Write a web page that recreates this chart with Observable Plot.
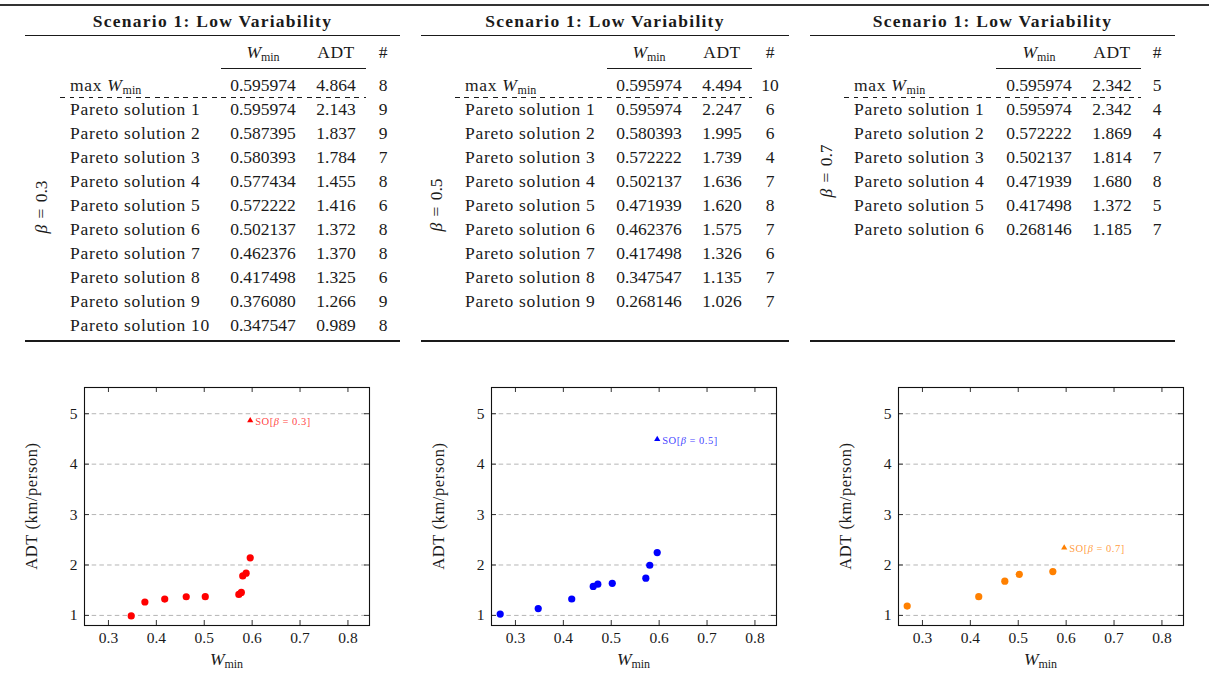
<!DOCTYPE html>
<html>
<head>
<meta charset="utf-8">
<script src="https://cdn.jsdelivr.net/npm/d3@7"></script>
<script src="https://cdn.jsdelivr.net/npm/@observablehq/plot@0.6"></script>
<style>
  body { margin: 0; background: #fff; }
  #page { position: relative; width: 1209px; height: 682px; overflow: hidden;
          font-family: "Liberation Serif", "DejaVu Serif", serif; color: #1a1a1a; }
  .t { position: absolute; white-space: nowrap; line-height: 1; font-size: 17.5px; }
  .word { letter-spacing: 0.7px; }
  .rule { position: absolute; background: #1a1a1a; }
  .dash { position: absolute; height: 0.8px;
          background: repeating-linear-gradient(to right, #1a1a1a 0 4.75px, transparent 4.75px 9.5px); }
  .sub { font-size: 12px; position: relative; top: 3px; letter-spacing: 0; }
  .plotbox { position: absolute; top: 380px; width: 407px; height: 302px; }
  .plotbox svg { max-width: none; }
</style>
</head>
<body>
<div id="page"></div>
<script>
// ---------------- DATA ----------------
const title = "Scenario 1: Low Variability";
const betas = [0.3, 0.5, 0.7];
const colors = ["#ff0000", "#0000ff", "#ff8000"];

// max W_min rows (system-optimal solutions)
const maxWmin = [0.595974, 0.595974, 0.595974];
const maxADT = [4.864, 4.494, 2.342];
const maxCount = [8, 10, 5];

// beta = 0.3
const wmin03 = [0.595974, 0.587395, 0.580393, 0.577434, 0.572222, 0.502137, 0.462376, 0.417498, 0.376080, 0.347547];
const adt03  = [2.143, 1.837, 1.784, 1.455, 1.416, 1.372, 1.370, 1.325, 1.266, 0.989];
const cnt03  = [9, 9, 7, 8, 6, 8, 8, 6, 9, 8];
// beta = 0.5
const wmin05 = [0.595974, 0.580393, 0.572222, 0.502137, 0.471939, 0.462376, 0.417498, 0.347547, 0.268146];
const adt05  = [2.247, 1.995, 1.739, 1.636, 1.620, 1.575, 1.326, 1.135, 1.026];
const cnt05  = [6, 6, 4, 7, 8, 7, 6, 7, 7];
// beta = 0.7
const wmin07 = [0.595974, 0.572222, 0.502137, 0.471939, 0.417498, 0.268146];
const adt07  = [2.342, 1.869, 1.814, 1.680, 1.372, 1.185];
const cnt07  = [4, 4, 7, 8, 5, 7];

const wminSeries = [wmin03, wmin05, wmin07];
const adtSeries = [adt03, adt05, adt07];
const cntSeries = [cnt03, cnt05, cnt07];

const xTicks = [0.3, 0.4, 0.5, 0.6, 0.7, 0.8];
const yTicks = [1, 2, 3, 4, 5];
const xDomain = [0.25, 0.845];
const yDomain = [0.8, 5.52];

// ---------------- LAYOUT ----------------
const page = document.getElementById("page");
const tableLayout = [
  {left: 25,  right: 400,  label: 70,  w: 263,  adt: 336,  num: 383,  betaX: 42,  betaY: 207, cmid: [221, 366], dash: [60, 366]},
  {left: 421, right: 789,  label: 465, w: 649,  adt: 722,  num: 770,  betaX: 437, betaY: 205, cmid: [607, 752], dash: [455, 752]},
  {left: 810, right: 1175, label: 854, w: 1039, adt: 1112, num: 1157, betaX: 827, betaY: 171, cmid: [996, 1141], dash: [844, 1141]}
];
const titleY = 22, topRuleY = 35.5, headerY = 53, cmidY = 68, maxRowY = 86, dashY = 97.5, rowY0 = 110, rowStep = 24, bottomRuleY = 341;

function text(html, x, y, anchor, cls, extraStyle) {
  const d = document.createElement("div");
  d.className = "t " + (cls || "");
  d.innerHTML = html;
  d.style.left = x + "px";
  d.style.top = y + "px";
  const tx = anchor === "middle" ? "-50%" : anchor === "end" ? "-100%" : "0";
  d.style.transform = `translate(${tx}, -50%)`;
  if (extraStyle) Object.assign(d.style, extraStyle);
  page.appendChild(d);
  return d;
}
function rule(x1, x2, y, h) {
  const d = document.createElement("div");
  d.className = "rule";
  Object.assign(d.style, {left: x1 + "px", width: (x2 - x1) + "px", top: (y - h / 2) + "px", height: h + "px"});
  page.appendChild(d);
}
function dash(x1, x2, y) {
  const d = document.createElement("div");
  d.className = "dash";
  Object.assign(d.style, {left: x1 + "px", width: (x2 - x1) + "px", top: (y - 0.4) + "px"});
  page.appendChild(d);
}

// top page line
const topLine = document.createElement("div");
Object.assign(topLine.style, {position: "absolute", left: "0px", top: "4px", width: "1209px", height: "1.6px", background: "#333"});
page.appendChild(topLine);

const Wmin = `<i>W</i><span class="sub">min</span>`;
const fmtW = d3.format(".6f"), fmtA = d3.format(".3f");

tableLayout.forEach((L, i) => {
  text(title, (L.left + L.right) / 2, titleY, "middle", "", {fontWeight: "bold", letterSpacing: "1.25px"});
  rule(L.left, L.right, topRuleY, 1.3);
  text(Wmin, L.w, headerY, "middle");
  text("ADT", L.adt, headerY, "middle", "", {letterSpacing: "0.5px"});
  text("#", L.num, headerY, "middle");
  rule(L.cmid[0], L.cmid[1], cmidY, 0.8);
  text(`max ${Wmin}`, L.label, maxRowY, "start", "word");
  text(fmtW(maxWmin[i]), L.w, maxRowY, "middle");
  text(fmtA(maxADT[i]), L.adt, maxRowY, "middle");
  text(String(maxCount[i]), L.num, maxRowY, "middle");
  dash(L.dash[0], L.dash[1], dashY);
  wminSeries[i].forEach((w, k) => {
    const y = rowY0 + k * rowStep;
    text(`Pareto solution ${k + 1}`, L.label, y, "start", "word");
    text(fmtW(w), L.w, y, "middle");
    text(fmtA(adtSeries[i][k]), L.adt, y, "middle");
    text(String(cntSeries[i][k]), L.num, y, "middle");
  });
  rule(L.left, L.right, bottomRuleY, 1.3);
  text(`<i>β</i> = ${betas[i]}`, L.betaX, L.betaY, "start", "",
       {transform: "translate(-50%, -50%) rotate(-90deg)", wordSpacing: "2px"});
});

// ---------------- PLOTS ----------------
function makePlot(i) {
  const W = 407, H = 302, mL = 84, mR = 38, mT = 7, mB = 57;
  const innerW = W - mL - mR, innerH = H - mT - mB;
  const pts = wminSeries[i].map((w, k) => ({w, adt: adtSeries[i][k]}))
    .filter(d => !(d.w === maxWmin[i] && d.adt === maxADT[i]));
  const so = [{w: maxWmin[i], adt: maxADT[i], label: `SO[β = ${betas[i]}]`}];
  const tickColor = "#333";
  const svg = Plot.plot({
    width: W, height: H,
    marginLeft: mL, marginRight: mR, marginTop: mT, marginBottom: mB,
    style: {fontFamily: "'Liberation Serif', 'DejaVu Serif', serif", fontSize: "15.5px", color: "#1a1a1a", background: "transparent", overflow: "visible"},
    x: {domain: xDomain, ticks: xTicks, tickFormat: d3.format(".1f"), tickSize: 0, tickPadding: 6, label: null},
    y: {domain: yDomain, ticks: yTicks, tickFormat: d3.format("d"), tickSize: 0, tickPadding: 7, label: null},
    marks: [
      Plot.ruleY(yTicks, {y: d => d, stroke: "#b5b5b5", strokeWidth: 1, strokeDasharray: "4.5,3.2"}),
      Plot.tickX(xTicks, {x: d => d, insetTop: innerH - 5, stroke: tickColor}),
      Plot.tickX(xTicks, {x: d => d, insetBottom: innerH - 5, stroke: tickColor}),
      Plot.tickY(yTicks, {y: d => d, insetRight: innerW - 5, stroke: tickColor}),
      Plot.tickY(yTicks, {y: d => d, insetLeft: innerW - 5, stroke: tickColor}),
      Plot.frame({stroke: "#111", strokeWidth: 1.1}),
      Plot.dot(pts, {x: "w", y: "adt", r: 3.6, fill: colors[i]}),
      Plot.dot(so, {x: "w", y: "adt", symbol: "triangle", r: 2.3, fill: colors[i]}),
      Plot.text(so, {x: "w", y: "adt", text: "label", dx: 5, dy: 1, textAnchor: "start", fill: colors[i],
                     fillOpacity: 0.78, fontSize: 10.5})
    ]
  });
  const s = d3.select(svg);
  s.style("max-width", "none");
  // italic beta in SO label
  s.selectAll("text").filter(function() { return this.textContent.startsWith("SO["); })
    .each(function() {
      const t = d3.select(this);
      const parts = this.textContent.split("β");
      t.text(null).style("letter-spacing", "0.5px");
      t.append("tspan").text(parts[0]);
      t.append("tspan").attr("font-style", "italic").text("β");
      t.append("tspan").text(parts[1]);
    });
  // y label
  s.append("text")
    .attr("transform", `translate(${mL - 51},${mT + innerH / 2}) rotate(-90)`)
    .attr("text-anchor", "middle").attr("dominant-baseline", "middle")
    .attr("font-size", 16.5).attr("letter-spacing", "0.6px").attr("fill", "#1a1a1a")
    .text("ADT (km/person)");
  // x label
  const xl = s.append("text")
    .attr("x", mL + innerW / 2).attr("y", 285)
    .attr("text-anchor", "middle").attr("fill", "#1a1a1a").attr("font-size", 17.5);
  xl.append("tspan").attr("font-style", "italic").text("W");
  xl.append("tspan").attr("font-size", 12).attr("dy", 3).text("min");

  const box = document.createElement("div");
  box.className = "plotbox";
  box.style.left = (i * 407) + "px";
  box.appendChild(svg);
  page.appendChild(box);
}
[0, 1, 2].forEach(makePlot);
</script>
</body>
</html>
